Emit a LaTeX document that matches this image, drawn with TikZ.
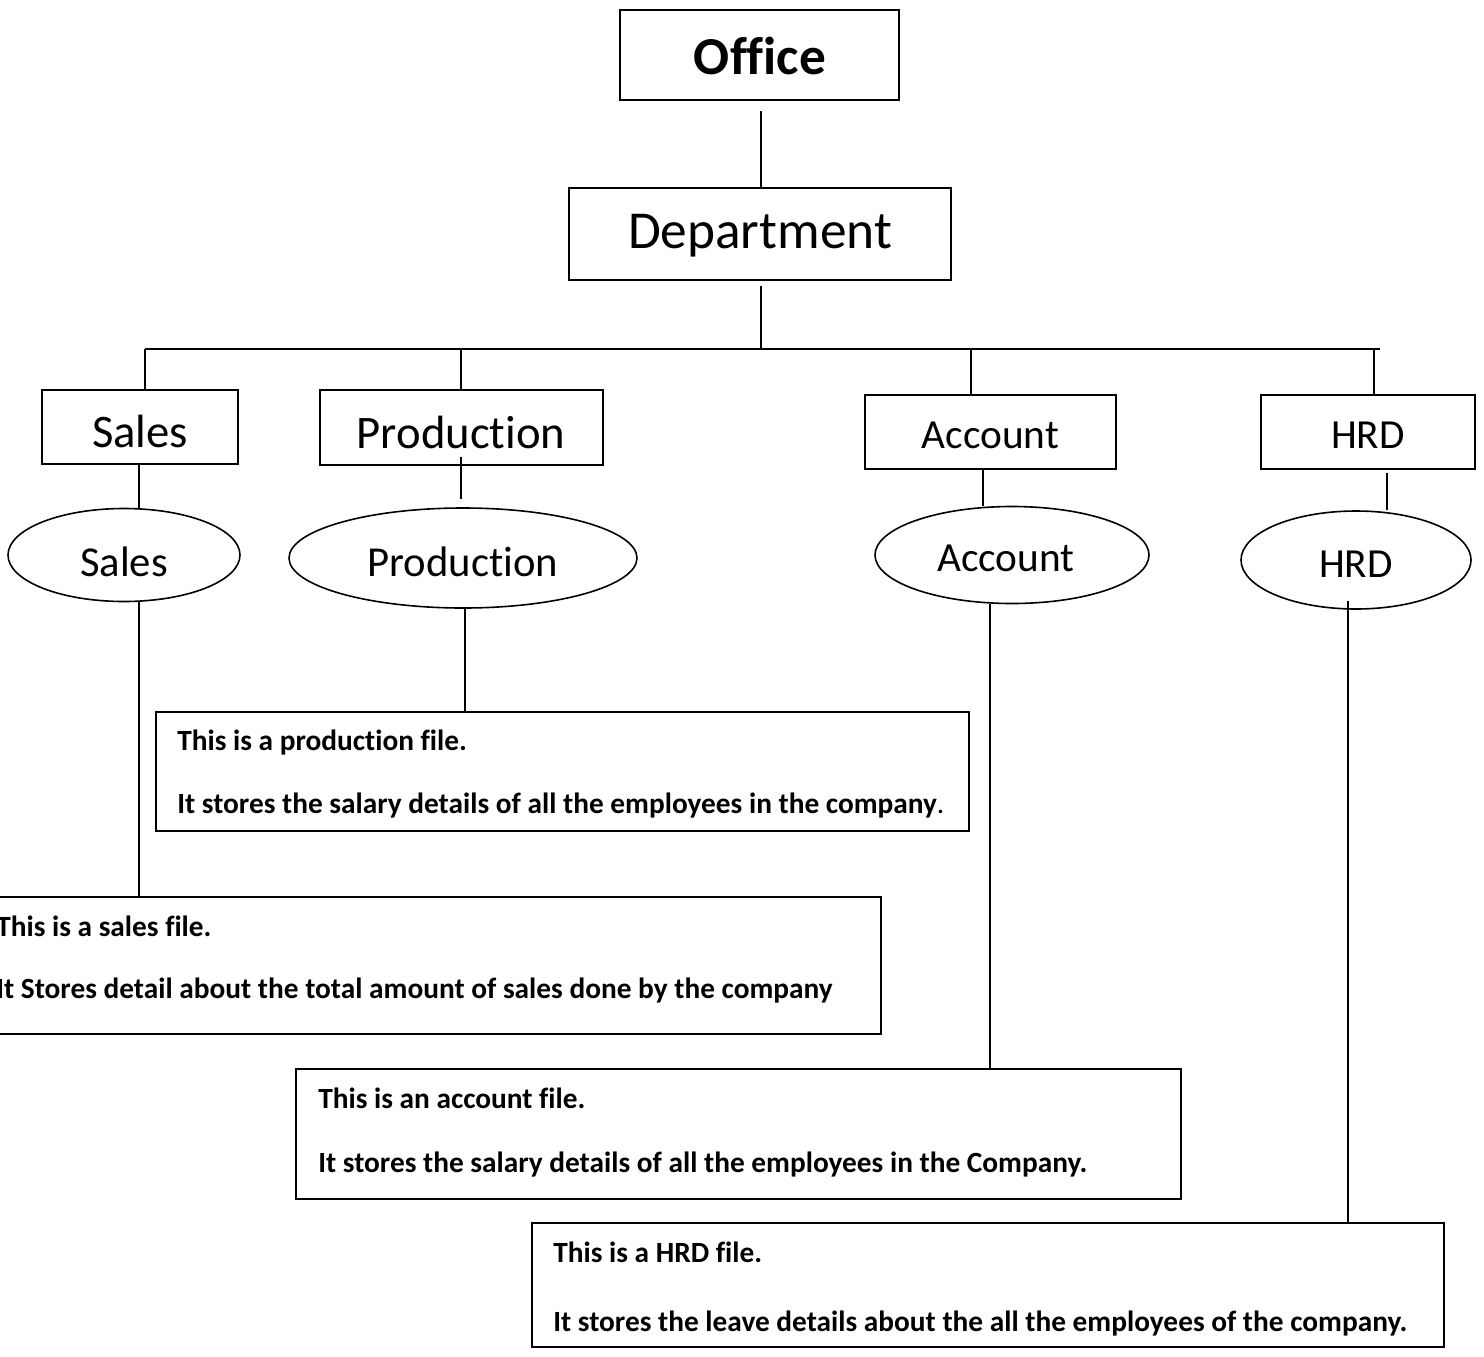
\documentclass[tikz,border=0pt]{standalone}
\usepackage{fontspec}
\setmainfont{Carlito}[Ligatures={TeX,CommonOff}]
\usetikzlibrary{shapes.geometric,calc}
\def\px{0.75pt}
\tikzset{
  box/.style={draw, line width=1.3pt, rectangle, inner sep=0pt},
  oval/.style={draw, line width=1.2pt, ellipse, inner sep=0pt},
  lab/.style={inner sep=0pt, align=center},
  filebox/.style={draw, line width=1.3pt, rectangle, inner sep=0pt},
  filetext/.style={anchor=base west, inner sep=0pt, font=\fontsize{22pt}{26pt}\selectfont\bfseries},
  conn/.style={line width=1.1pt},
}
\begin{document}
\begin{tikzpicture}[x=0.75pt, y=-0.75pt]
\useasboundingbox[fill=white] (0,0) rectangle (1484,1356);

% top levels
\node[box, minimum width=279*\px, minimum height=90*\px] (office) at (759.5,55) {};
\node[lab, font=\fontsize{40pt}{48pt}\selectfont\bfseries] (officet) at (760,56) {Office};
\node[box, minimum width=382*\px, minimum height=92*\px] (dept) at (760,234) {};
\node[lab, font=\fontsize{40pt}{48pt}\selectfont] (deptt) at (760,236) {Department};

% department boxes
\node[box, minimum width=196*\px, minimum height=74*\px] (salesbox) at (140,427) {};
\node[lab, font=\fontsize{35pt}{42pt}\selectfont] (salesboxt) at (140,431) {Sales};
\node[box, minimum width=283*\px, minimum height=75*\px] (prodbox) at (461.5,427.5) {};
\node[lab, font=\fontsize{35pt}{42pt}\selectfont] (prodboxt) at (461,432) {Production};
\node[box, minimum width=251*\px, minimum height=74*\px] (accbox) at (990.5,432) {};
\node[lab, font=\fontsize{31pt}{37pt}\selectfont] (accboxt) at (990.5,435) {Account};
\node[box, minimum width=214*\px, minimum height=74*\px] (hrdbox) at (1368,432) {};
\node[lab, font=\fontsize{31pt}{37pt}\selectfont] (hrdboxt) at (1368,435) {HRD};

% ellipses
\node[oval, minimum width=232*\px, minimum height=93*\px] (salesell) at (124,555) {};
\node[lab, font=\fontsize{32pt}{38pt}\selectfont] (sallest) at (124,562) {Sales};
\node[oval, minimum width=348*\px, minimum height=100*\px] (prodell) at (463,558) {};
\node[lab, font=\fontsize{32pt}{38pt}\selectfont] (prodellt) at (463,562) {Production};
\node[oval, minimum width=274*\px, minimum height=97*\px] (accell) at (1012,555) {};
\node[lab, font=\fontsize{31pt}{37pt}\selectfont] (accellt) at (1006,558) {Account};
\node[oval, minimum width=230*\px, minimum height=98*\px] (hrdell) at (1356,560) {};
\node[lab, font=\fontsize{31pt}{37pt}\selectfont] (hrdellt) at (1356,564) {HRD};

% file boxes
\node[filebox, minimum width=813*\px, minimum height=119*\px] (prodfile) at (562.5,771.5) {};
\node[filetext] (prodt1) at (177,750) {This is a production file.};
\node[filetext] (prodt2) at (177,813) {It stores the salary details of all the employees in the company\mdseries.};

\node[filebox, minimum width=901*\px, minimum height=137*\px] (salesfile) at (430.5,965.5) {};
\node[filetext] (salest1) at (-4,936) {This is a sales file.};
\node[filetext] (salest2) at (-4,998) {It Stores detail about the total amount of sales done by the company};

\node[filebox, minimum width=885*\px, minimum height=130*\px] (accfile) at (738.5,1134) {};
\node[filetext] (acct1) at (318,1108) {This is an account file.};
\node[filetext] (acct2) at (318,1172) {It stores the salary details of all the employees in the Company.};

\node[filebox, minimum width=912*\px, minimum height=124*\px] (hrdfile) at (988,1285) {};
\node[filetext] (hrdt1) at (553,1262) {This is a HRD file.};
\node[filetext] (hrdt2) at (553,1331) {It stores the leave details about the all the employees of the company.};

% bus coordinates
\coordinate (busC) at (761,349);
\coordinate (busL) at (145,349);
\coordinate (busR) at (1380,349);
\coordinate (busS) at (145,349);
\coordinate (busP) at (461,349);
\coordinate (busA) at (971,349);
\coordinate (busH) at (1374,349);

% connectors
\draw[conn] ([yshift=-10*\px]office.south -| busC) -- (busC |- dept.north);
\draw[conn] ([yshift=-5*\px]dept.south -| busC) -- (busC);
\draw[conn] (busL) -- (busR);
\draw[conn] (busS) -- (busS |- salesbox.north);
\draw[conn] (busP) -- (busP |- prodbox.north);
\draw[conn] (busA) -- (busA |- accbox.north);
\draw[conn] (busH) -- (busH |- hrdbox.north);

\draw[conn] (139,0 |- salesbox.south) -- (139,0 |- salesell.north);
\coordinate (pA) at (461,457);
\coordinate (pB) at (461,499);
\draw[conn] (pA) -- (pB);
\draw[conn] (983,0 |- accbox.south) -- (983,0 |- accell.north);
\coordinate (hA) at (1387,473);
\draw[conn] (hA) -- (1387,0 |- hrdell.north);

\draw[conn] (139,0 |- salesell.south) -- (139,0 |- salesfile.north);
\draw[conn] (465,0 |- prodell.south) -- (465,0 |- prodfile.north);
\draw[conn] (990,0 |- accell.south) -- (990,0 |- accfile.north);
\coordinate (hC) at (1348,601);
\draw[conn] (hC) -- (hC |- hrdfile.north);
\end{tikzpicture}
\end{document}
